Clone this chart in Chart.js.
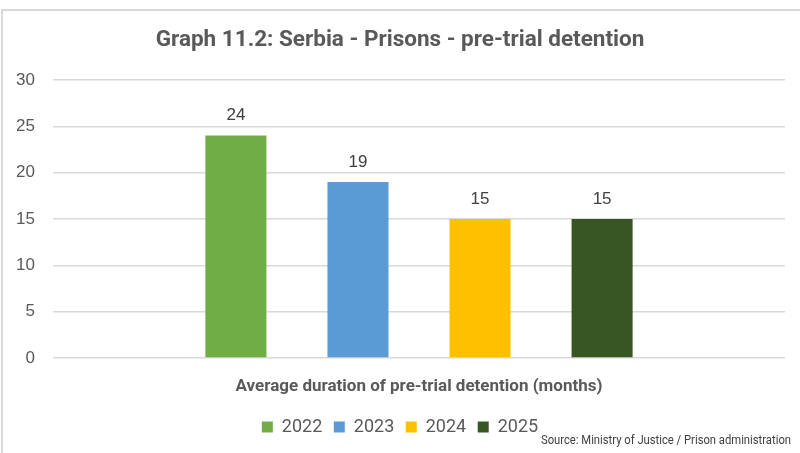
<!DOCTYPE html>
<html lang="en">
<head>
  <meta charset="UTF-8">
  <title>Graph 11.2</title>
  <script src="https://cdn.jsdelivr.net/npm/chart.js"></script>
  <style>
    body {
      margin: 0;
      background-color: #ffffff;
      overflow: hidden;
    }
    .frame {
      position: absolute;
      left: 1px;
      top: 9px;
      width: 830px;
      height: 480px;
      border: 2px solid #d9d9d9;
    }
    .chartBox {
      position: absolute;
      left: 0;
      top: 0;
      width: 800px;
      height: 453px;
    }
  </style>
</head>
<body>

<div class="frame"></div>
<div class="chartBox">
  <canvas id="barChart"></canvas>
</div>

<script>
  // data
  const categories = ['Average duration of pre-trial detention (months)'];
  const years = ['2022', '2023', '2024', '2025'];
  const values = [24, 19, 15, 15];
  const barColors = ['#70AD47', '#5B9BD5', '#FFC000', '#375623'];
  const yTicks = [0, 5, 10, 15, 20, 25, 30];

  const sourceText = 'Source: Ministry of Justice / Prison administration';

  // value labels above each bar
  const valueLabels = {
    id: 'valueLabels',
    afterDatasetsDraw(chart) {
      const ctx = chart.ctx;
      ctx.save();
      ctx.font = '17px "Liberation Sans"';
      ctx.fillStyle = '#404040';
      ctx.textAlign = 'center';
      ctx.textBaseline = 'middle';
      chart.data.datasets.forEach(function (ds, i) {
        let meta = chart.getDatasetMeta(i);
        meta.data.forEach(function (bar, j) {
          ctx.fillText(ds.data[j], bar.x, bar.y - 20);
        });
      });
      ctx.restore();
    }
  };

  // source note, bottom right, squeezed like a narrow font
  const sourceNote = {
    id: 'sourceNote',
    afterDraw(chart) {
      const ctx = chart.ctx;
      ctx.save();
      ctx.font = '12px Roboto';
      ctx.fillStyle = '#404040';
      ctx.textAlign = 'right';
      ctx.textBaseline = 'middle';
      let w = ctx.measureText(sourceText).width;
      let sx = 250 / w;
      ctx.translate(chart.width - 9, 441);
      ctx.scale(sx, 1);
      ctx.fillText(sourceText, 0, 0);
      ctx.restore();
    }
  };

  const datasets = years.map(function (y, i) {
    return {
      label: y,
      data: [values[i]],
      backgroundColor: barColors[i],
      borderWidth: 0,
      categoryPercentage: 0.667,
      barPercentage: 0.5
    };
  });

  const config = {
    type: 'bar',
    data: {
      labels: categories,
      datasets: datasets
    },
    options: {
      responsive: true,
      maintainAspectRatio: false,
      animation: false,
      layout: {
        // left padding nudges the centred title/legend to the right
        padding: { left: 15, right: 15, top: 0, bottom: 7 }
      },
      plugins: {
        title: {
          display: true,
          text: 'Graph 11.2: Serbia - Prisons - pre-trial detention',
          color: '#595959',
          font: { family: 'Roboto', size: 22.5, weight: 'bold' },
          padding: { top: 26.5, bottom: 26.5 }
        },
        legend: {
          position: 'bottom',
          labels: {
            color: '#595959',
            font: { family: 'Roboto', size: 18 },
            boxWidth: 11,
            boxHeight: 11,
            padding: 11.5
          }
        },
        tooltip: { enabled: false }
      },
      scales: {
        x: {
          grid: { display: false },
          border: { display: false },
          ticks: {
            color: '#595959',
            font: { family: 'Roboto', size: 17, weight: 'bold' },
            padding: 10
          }
        },
        y: {
          min: 0,
          max: 30,
          afterBuildTicks: function (scale) {
            scale.ticks = yTicks.map(function (v) { return { value: v }; });
          },
          afterFit: function (scale) {
            scale.width = 38;
          },
          grid: {
            color: '#d9d9d9',
            lineWidth: 1.5,
            drawTicks: false
          },
          border: { display: false },
          ticks: {
            color: '#595959',
            font: { family: 'Liberation Sans', size: 17 },
            padding: 18
          }
        }
      }
    },
    plugins: [valueLabels, sourceNote]
  };

  let barChart = new Chart(document.getElementById('barChart'), config);
</script>

</body>
</html>
